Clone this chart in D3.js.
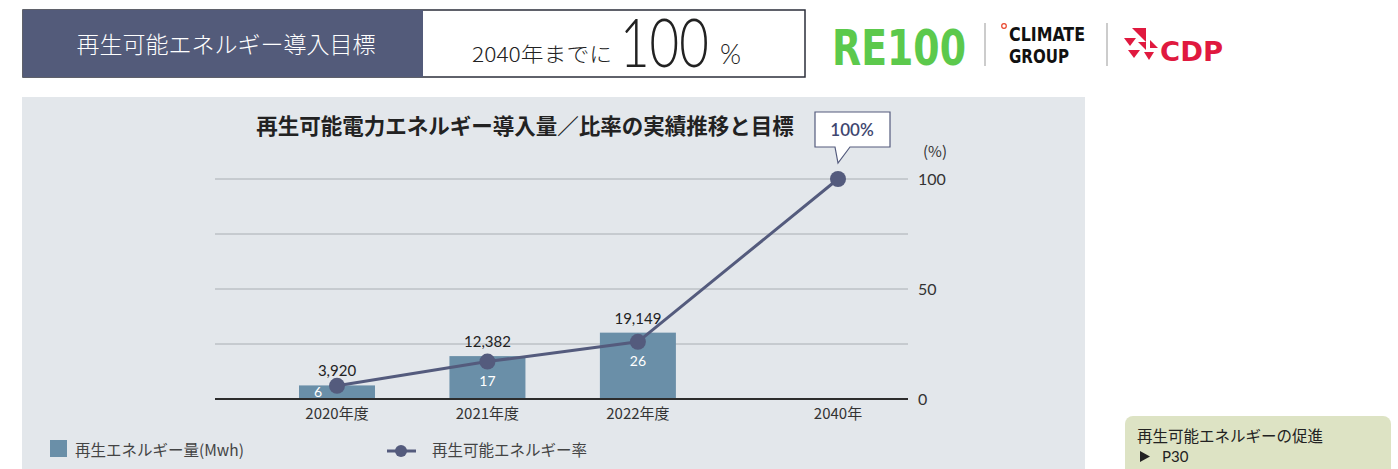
<!DOCTYPE html>
<html>
<head>
<meta charset="utf-8">
<script src="https://cdn.jsdelivr.net/npm/d3@7"></script>
<style>
  body { margin: 0; background: #fff; }
  svg text { font-family: "Noto Sans CJK JP", "Noto Sans", sans-serif; }
</style>
</head>
<body>
<div id="chart"></div>
<script>
// data
const years = ["2020年度", "2021年度", "2022年度", "2040年"];
const slots = [0, 1, 2, 3.33];                 // 2040 sits after a gap
const energy = [3920, 12382, 19149, null];     // MWh
const energyLabels = ["3,920", "12,382", "19,149", null];
const rate = [6, 17, 26, 100];                 // %
const rateTicks = [0, 50, 100];
const gridTicks = [25, 50, 75, 100];

const W = 1398, H = 469;
const svg = d3.select("#chart").append("svg")
    .attr("width", W).attr("height", H);

svg.append("rect").attr("width", W).attr("height", H).attr("fill", "#fff");

// ---- top banner
const banner = svg.append("g");
banner.append("rect").attr("x", 23).attr("y", 10).attr("width", 782).attr("height", 67)
    .attr("fill", "#fff").attr("stroke", "#2b2e3a").attr("stroke-width", 1.5);
banner.append("rect").attr("x", 23).attr("y", 10).attr("width", 400).attr("height", 67)
    .attr("fill", "#535b7a");
banner.append("text").attr("x", 226).attr("y", 53)
    .attr("text-anchor", "middle").attr("fill", "#fff")
    .style("font-size", "23px").style("font-weight", 300)
    .text("再生可能エネルギー導入目標");
banner.append("text").attr("x", 472).attr("y", 62).attr("fill", "#222")
    .attr("textLength", 140).attr("lengthAdjust", "spacingAndGlyphs")
    .style("font-size", "20px").style("font-weight", 300).text("2040年までに");
// tall, narrow "100": smaller font stretched vertically
banner.append("text").attr("transform", "translate(620,67) scale(1,1.3)").attr("fill", "#222")
    .style("font-family", "Lato, sans-serif").style("font-weight", 300)
    .style("font-size", "51px").text("100");
banner.append("text").attr("x", 720).attr("y", 64).attr("fill", "#222")
    .style("font-family", "Lato, sans-serif").style("font-weight", 300)
    .style("font-size", "27px").text("%");

// ---- logos
const logos = svg.append("g");
logos.append("text").attr("x", 832).attr("y", 65)
    .attr("fill", "#5cc94c").attr("textLength", 134).attr("lengthAdjust", "spacingAndGlyphs")
    .style("font-family", "'DejaVu Sans Condensed', 'Liberation Sans Narrow', sans-serif")
    .style("font-weight", "bold").style("font-size", "50px").text("RE100");
[985, 1107].forEach(x => logos.append("line").attr("x1", x).attr("x2", x)
    .attr("y1", 23).attr("y2", 66).attr("stroke", "#bbb").attr("stroke-width", 1.5));
logos.append("circle").attr("cx", 1004).attr("cy", 26).attr("r", 2.3)
    .attr("fill", "none").attr("stroke", "#e8452c").attr("stroke-width", 1.2);
[["CLIMATE", 1009, 41, 76], ["GROUP", 1009, 63, 60]].forEach(([t, x, y, w]) =>
    logos.append("text").attr("transform", `translate(${x},${y}) scale(1,1.35)`)
        .attr("fill", "#111")
        .attr("textLength", w).attr("lengthAdjust", "spacingAndGlyphs")
        .style("font-family", "'DejaVu Sans Condensed', sans-serif")
        .style("font-weight", "bold").style("font-size", "15px").text(t));
const cdp = logos.append("g").attr("transform", "translate(1124,28)").attr("fill", "#e0193f");
[
  "M8,0 L22,0 L22,14 Z", "M0,10 L12,10 L6,18 Z", "M14,14 L22,14 L22,22 Z",
  "M4,22 L16,22 L10,30 Z", "M20,24 L30,24 L25,32 Z", "M26,12 L34,20 L26,20 Z"
].forEach(p => cdp.append("path").attr("d", p));
logos.append("text").attr("x", 1160).attr("y", 61).attr("fill", "#e0193f")
    .style("font-family", "'DejaVu Sans', sans-serif").style("font-weight", "bold")
    .style("font-size", "27px").attr("textLength", 63).attr("lengthAdjust", "spacingAndGlyphs")
    .text("CDP");

// ---- chart panel
svg.append("rect").attr("x", 22).attr("y", 97).attr("width", 1063).attr("height", 380)
    .attr("fill", "#e3e7eb");

svg.append("text").attr("x", 525).attr("y", 134).attr("text-anchor", "middle")
    .attr("fill", "#222").style("font-size", "21.5px").style("font-weight", "bold")
    .text("再生可能電力エネルギー導入量／比率の実績推移と目標");

const plotL = 215, plotR = 908, plotTop = 179, base = 399;

const x = d3.scaleLinear().domain([0, 3.33]).range([337, 838]);
const yRate = d3.scaleLinear().domain([0, 100]).range([base, plotTop]);
const yEnergy = d3.scaleLinear().domain([0, 63500]).range([base, plotTop]);

// grid
svg.append("g").selectAll("line").data(gridTicks).join("line")
    .attr("x1", plotL).attr("x2", plotR)
    .attr("y1", d => yRate(d)).attr("y2", d => yRate(d))
    .attr("stroke", "#a9aeb3").attr("stroke-width", 1);

// right axis
const axisR = svg.append("g").attr("transform", `translate(${plotR},0)`)
    .call(d3.axisRight(yRate).tickValues(rateTicks).tickSize(0).tickPadding(10));
axisR.select(".domain").remove();
axisR.selectAll("text").attr("fill", "#333").style("font-size", "16px")
    .style("font-family", "Lato, sans-serif");
svg.append("text").attr("x", 935).attr("y", 157).attr("text-anchor", "middle")
    .attr("fill", "#333").style("font-size", "15px").text("(%)");

// bars
const barData = years.map((y, i) => ({ year: y, slot: slots[i], v: energy[i], lab: energyLabels[i], r: rate[i] }));
const bars = barData.filter(d => d.v != null);
svg.append("g").selectAll("rect").data(bars).join("rect")
    .attr("x", d => x(d.slot) - 38).attr("width", 76)
    .attr("y", d => yEnergy(d.v)).attr("height", d => base - yEnergy(d.v))
    .attr("fill", "#6a8fa8");

svg.append("g").selectAll("text").data(bars).join("text")
    .attr("x", d => x(d.slot)).attr("y", d => yEnergy(d.v) - 9)
    .attr("text-anchor", "middle").attr("fill", "#222")
    .style("font-size", "15px").style("font-family", "Lato, sans-serif")
    .text(d => d.lab);

// baseline
svg.append("line").attr("x1", plotL).attr("x2", plotR).attr("y1", base).attr("y2", base)
    .attr("stroke", "#2d2d2d").attr("stroke-width", 2);

// x labels
svg.append("g").selectAll("text").data(barData).join("text")
    .attr("x", d => x(d.slot)).attr("y", 419).attr("text-anchor", "middle")
    .attr("fill", "#333").style("font-size", "15px").text(d => d.year);

// rate line
const line = d3.line().x(d => x(d.slot)).y(d => yRate(d.r));
svg.append("path").datum(barData).attr("d", line)
    .attr("fill", "none").attr("stroke", "#545b7d").attr("stroke-width", 3);
svg.append("g").selectAll("circle").data(barData).join("circle")
    .attr("cx", d => x(d.slot)).attr("cy", d => yRate(d.r)).attr("r", 8)
    .attr("fill", "#545b7d");

// rate labels inside bars
svg.append("g").selectAll("text").data(bars).join("text")
    .attr("x", (d, i) => i === 0 ? x(d.slot) - 19 : x(d.slot))
    .attr("y", (d, i) => i === 0 ? 397 : yRate(d.r) + 24)
    .attr("text-anchor", "middle").attr("fill", "#fff")
    .style("font-size", "14px").style("font-family", "Lato, sans-serif")
    .text(d => d.r);

// callout for 2040 target
const last = barData[barData.length - 1];
const cx = x(last.slot);
const call = svg.append("g");
call.append("path")
    .attr("d", `M${cx - 23},112 H${cx + 52} V147 H${cx + 12} L${cx},163 L${cx - 3},147 H${cx - 23} Z`)
    .attr("fill", "#fff").attr("stroke", "#545b7d").attr("stroke-width", 1.2);
call.append("text").attr("x", cx + 14).attr("y", 136).attr("text-anchor", "middle")
    .attr("fill", "#3f4770").style("font-size", "17px").style("font-family", "Lato, sans-serif")
    .style("font-weight", 600).text(last.r + "%");

// legend
svg.append("rect").attr("x", 50).attr("y", 440).attr("width", 17).attr("height", 17).attr("fill", "#6a8fa8");
svg.append("text").attr("x", 75).attr("y", 456).attr("fill", "#444")
    .style("font-size", "15.5px").text("再生エネルギー量(Mwh)");
svg.append("line").attr("x1", 387).attr("x2", 416).attr("y1", 451).attr("y2", 451)
    .attr("stroke", "#545b7d").attr("stroke-width", 3);
svg.append("circle").attr("cx", 401).attr("cy", 451).attr("r", 6).attr("fill", "#545b7d");
svg.append("text").attr("x", 432).attr("y", 456).attr("fill", "#444")
    .style("font-size", "15.5px").text("再生可能エネルギー率");

// link box
svg.append("rect").attr("x", 1125).attr("y", 416).attr("width", 266).attr("height", 70)
    .attr("rx", 8).attr("fill", "#dde3c4");
svg.append("text").attr("x", 1137).attr("y", 442).attr("fill", "#222")
    .style("font-size", "15.5px").text("再生可能エネルギーの促進");
svg.append("path").attr("d", "M1140,451 L1150,456.5 L1140,462 Z").attr("fill", "#222");
svg.append("text").attr("x", 1162).attr("y", 462).attr("fill", "#222")
    .style("font-size", "15px").style("font-family", "Lato, sans-serif").text("P30");
</script>
</body>
</html>
